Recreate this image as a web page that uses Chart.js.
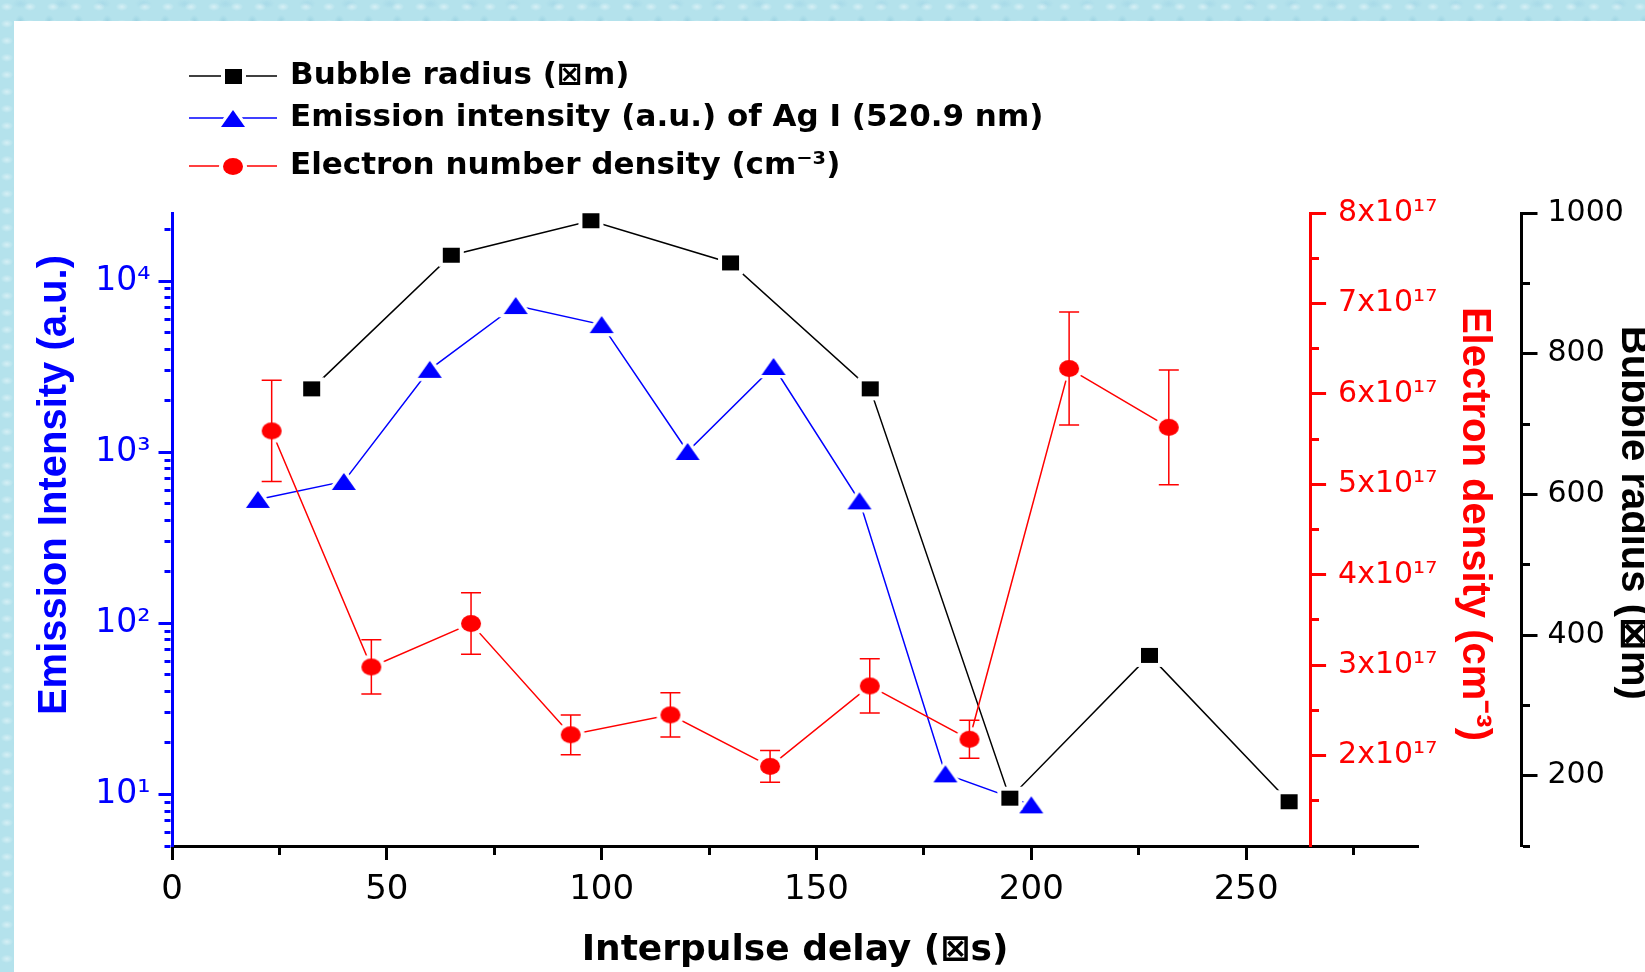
<!DOCTYPE html>
<html>
<head>
<meta charset="utf-8">
<title>Interpulse delay</title>
<script src="https://cdn.jsdelivr.net/npm/chart.js@4.4.1/dist/chart.umd.min.js"></script>
<style>
  html, body { margin: 0; padding: 0; }
  body {
    position: relative;
    width: 1645px;
    height: 972px;
    overflow: hidden;
    background-color: #b4e2ec;
    background-image:
      radial-gradient(ellipse 9px 6px at 30% 40%, rgba(255,255,255,.45), transparent 70%),
      radial-gradient(ellipse 7px 10px at 70% 70%, rgba(110,180,205,.35), transparent 70%),
      radial-gradient(ellipse 12px 7px at 50% 10%, rgba(150,205,225,.4), transparent 70%);
    background-size: 23px 17px, 29px 31px, 41px 37px;
  }
  #panel { position: absolute; left: 14px; top: 21px; right: 0; bottom: 0; background: #fff; }
  #chart { position: absolute; left: 0; top: 0; }
</style>
</head>
<body>
<div id="panel"></div>
<canvas id="chart" width="1645" height="972"></canvas>
<script>
// bubble radius (um) vs interpulse delay (us)
const bubbleDelay = [32.5, 65, 97.5, 130, 162.5, 195, 227.5, 260];
const bubbleRadius = [750, 940, 989, 929, 750, 168, 371, 163];

// Ag I 520.9 nm emission intensity (a.u.)
const emissionDelay = [20, 40, 60, 80, 100, 120, 140, 160, 180, 200];
const emissionIntensity = [530, 675, 3050, 7200, 5570, 1010, 3170, 520, 13.2, 8.7];

// electron number density (cm-3) with its error
const densityDelay = [23.2, 46.4, 69.6, 92.8, 116, 139.2, 162.4, 185.6, 208.8, 232];
const electronDensity = [5.59e17, 2.98e17, 3.46e17, 2.23e17, 2.45e17, 1.88e17, 2.77e17, 2.18e17, 6.28e17, 5.63e17];
const densityError = [0.56e17, 0.30e17, 0.34e17, 0.22e17, 0.245e17, 0.175e17, 0.30e17, 0.21e17, 0.625e17, 0.635e17];

// ticks that carry a label (the others are minor)
const delayTicks = [0, 50, 100, 150, 200, 250];
const intensityTicks = [10, 100, 1000, 10000];
const densityTicks = [2e17, 3e17, 4e17, 5e17, 6e17, 7e17, 8e17];
const radiusTicks = [200, 400, 600, 800, 1000];

const tickFont = "'DejaVu Sans', sans-serif";

// the vertical titles look tall and narrow: use a narrow face when there is one
function hasFont(name) {
  const g = document.createElement('canvas').getContext('2d');
  g.font = 'bold 40px monospace';
  const base = g.measureText('Electron density').width;
  g.font = "bold 40px '" + name + "', monospace";
  return g.measureText('Electron density').width !== base;
}
const narrow = hasFont('Liberation Sans Narrow');
const titleFont = narrow ? "'Liberation Sans Narrow', 'Liberation Sans', sans-serif" : "'Liberation Sans', Arial, sans-serif";
const titleSize = narrow ? 48 : 40;
const titleHalf = titleSize * 0.6;

const SUP = {'0':'⁰','1':'¹','2':'²','3':'³','4':'⁴','5':'⁵','6':'⁶','7':'⁷','8':'⁸','9':'⁹','-':'⁻'};
const sup = s => String(s).split('').map(c => SUP[c] || c).join('');
const isMajor = (list, v) => list.some(t => Math.abs(t - v) <= Math.abs(t) * 1e-6);

// Origin style symbols, with a white halo so the line stops short of them
function marker(shape, color, w, h) {
  const halo = 4;
  const c = document.createElement('canvas');
  c.width = w + halo * 2 + 2;
  c.height = h + halo * 2 + 2;
  const g = c.getContext('2d');
  const cx = c.width / 2, cy = c.height / 2;
  const path = pad => {
    g.beginPath();
    if (shape === 'rect') {
      g.rect(cx - w / 2 - pad, cy - h / 2 - pad, w + 2 * pad, h + 2 * pad);
    } else if (shape === 'circle') {
      g.ellipse(cx, cy, w / 2 + pad, h / 2 + pad, 0, 0, Math.PI * 2);
    } else {
      g.moveTo(cx, cy - h / 2 - pad * 1.6);
      g.lineTo(cx + w / 2 + pad * 1.4, cy + h / 2 + pad * 0.8);
      g.lineTo(cx - w / 2 - pad * 1.4, cy + h / 2 + pad * 0.8);
      g.closePath();
    }
  };
  g.fillStyle = '#fff';
  path(halo);
  g.fill();
  g.fillStyle = color;
  path(0);
  g.fill();
  return c;
}

const toPoints = (xs, ys) => xs.map((x, i) => ({x: x, y: ys[i]}));

// minor ticks are drawn shorter with a dash pattern
const outwardDash = (list, len) => c => isMajor(list, c.tick.value) ? [] : [len, 60];

const errorBars = {
  id: 'errorBars',
  afterDatasetsDraw(chart) {
    const ctx = chart.ctx;
    chart.data.datasets.forEach((ds, i) => {
      if (!ds.errors) return;
      const meta = chart.getDatasetMeta(i);
      const scale = chart.scales[ds.yAxisID];
      ctx.save();
      ctx.strokeStyle = ds.borderColor;
      ctx.lineWidth = 1.5;
      meta.data.forEach((pt, j) => {
        const v = ds.data[j].y, e = ds.errors[j];
        const top = scale.getPixelForValue(v + e);
        const bot = scale.getPixelForValue(v - e);
        const half = 10;
        ctx.beginPath();
        ctx.moveTo(pt.x, top); ctx.lineTo(pt.x, bot);
        ctx.moveTo(pt.x - half, top); ctx.lineTo(pt.x + half, top);
        ctx.moveTo(pt.x - half, bot); ctx.lineTo(pt.x + half, bot);
        ctx.stroke();
      });
      ctx.restore();
    });
  }
};

const seriesKey = {
  id: 'seriesKey',
  afterDraw(chart, args, opts) {
    const ctx = chart.ctx;
    ctx.save();
    chart.data.datasets.forEach((ds, i) => {
      const y = opts.rows[i];
      ctx.strokeStyle = ds.borderColor;
      ctx.lineWidth = 1.5;
      ctx.beginPath();
      ctx.moveTo(opts.x, y);
      ctx.lineTo(opts.x + opts.lineLength, y);
      ctx.stroke();
      const img = ds.pointStyle;
      ctx.drawImage(img, Math.round(opts.x + opts.lineLength / 2 - img.width / 2), Math.round(y - img.height / 2));
      ctx.fillStyle = '#000';
      ctx.font = opts.font;
      ctx.textAlign = 'left';
      ctx.textBaseline = 'middle';
      ctx.fillText(ds.label, opts.textX, y);
    });
    ctx.restore();
  }
};

// the density axis stands inside the plot, at a delay of 265 us
const densityAxisAt = {
  id: 'densityAxisAt',
  afterLayout(chart) {
    const red = chart.scales.yDensity;
    red.left = chart.scales.x.getPixelForValue(265);
    red.right = red.left + 187;
  }
};

new Chart(document.getElementById('chart'), {
  type: 'line',
  data: {
    datasets: [
      {
        label: 'Bubble radius (⊠m)',
        data: toPoints(bubbleDelay, bubbleRadius),
        yAxisID: 'yRadius',
        borderColor: '#000000',
        pointStyle: marker('rect', '#000000', 17, 15),
        order: 1
      },
      {
        label: 'Emission intensity (a.u.) of Ag I (520.9 nm)',
        data: toPoints(emissionDelay, emissionIntensity),
        yAxisID: 'yIntensity',
        borderColor: '#0000ff',
        pointStyle: marker('triangle', '#0000ff', 24, 17),
        order: 2
      },
      {
        label: 'Electron number density (cm⁻³)',
        data: toPoints(densityDelay, electronDensity),
        errors: densityError,
        yAxisID: 'yDensity',
        borderColor: '#ff0000',
        pointStyle: marker('circle', '#ff0000', 20, 17),
        order: 0
      }
    ]
  },
  options: {
    responsive: false,
    animation: false,
    devicePixelRatio: 1,
    events: [],
    layout: { padding: { top: 213, left: 0, right: 0, bottom: 0 } },
    elements: {
      line: { borderWidth: 1.5, tension: 0, fill: false },
      point: { radius: 10, hoverRadius: 10 }
    },
    plugins: {
      legend: { display: false },
      tooltip: { enabled: false },
      seriesKey: {
        x: 189,
        lineLength: 88,
        textX: 290,
        rows: [76, 118, 166],
        font: "bold 31px 'DejaVu Sans', sans-serif"
      }
    },
    scales: {
      x: {
        type: 'linear',
        position: 'bottom',
        min: 0,
        max: 290,
        afterFit: s => { s.height = 126; },
        ticks: {
          stepSize: 25,
          includeBounds: false,
          autoSkip: false,
          maxRotation: 0,
          padding: 10,
          color: '#000',
          font: { family: tickFont, size: 34 },
          callback: v => isMajor(delayTicks, v) ? String(v) : ''
        },
        grid: {
          drawOnChartArea: false,
          tickLength: 14,
          tickWidth: 3,
          tickColor: '#000',
          tickBorderDash: outwardDash(delayTicks, 7)
        },
        border: { display: true, color: '#000', width: 3 },
        title: {
          display: true,
          text: 'Interpulse delay (⊠s)',
          color: '#000',
          font: { family: tickFont, size: 36, weight: 'bold' },
          padding: { top: 0, bottom: 0 }
        }
      },
      yIntensity: {
        type: 'logarithmic',
        position: 'left',
        min: 5,
        max: 25000,
        afterFit: s => { s.width = 172; },
        afterBuildTicks: s => {
          s.ticks = s.ticks.filter(t => {
            const m = t.value / Math.pow(10, Math.floor(Math.log10(t.value) + 1e-9));
            return Math.abs(m - Math.round(m)) < 1e-6;
          });
        },
        ticks: {
          autoSkip: false,
          padding: 8,
          color: '#0000ff',
          font: { family: tickFont, size: 33 },
          callback: v => isMajor(intensityTicks, v) ? '10' + sup(Math.round(Math.log10(v))) : ''
        },
        grid: {
          drawOnChartArea: false,
          tickLength: 13.5,
          tickWidth: 3,
          tickColor: '#0000ff',
          tickBorderDash: c => isMajor(intensityTicks, c.tick.value) ? [] : [6, 6],
          tickBorderDashOffset: c => isMajor(intensityTicks, c.tick.value) ? 0 : 6
        },
        border: { display: true, color: '#0000ff', width: 3 },
        title: {
          display: true,
          text: '        Emission Intensity (a.u.)',
          color: '#0000ff',
          font: { family: titleFont, size: titleSize, weight: 'bold' },
          padding: { top: 55 - titleHalf, bottom: 0 }
        }
      },
      yDensity: {
        type: 'linear',
        position: 'right',
        min: 1e17,
        max: 8e17,
        afterFit: s => { s.width = 103; },
        ticks: {
          stepSize: 0.5e17,
          autoSkip: false,
          padding: 12,
          color: '#ff0000',
          font: { family: tickFont, size: 30 },
          callback: v => isMajor(densityTicks, v) ? Math.round(v / 1e17) + 'x10' + sup(17) : ''
        },
        grid: {
          drawOnChartArea: false,
          tickLength: 15.5,
          tickWidth: 3,
          tickColor: '#ff0000',
          tickBorderDash: outwardDash(densityTicks, 7)
        },
        border: { display: true, color: '#ff0000', width: 3 },
        title: {
          display: true,
          text: 'Electron density (cm⁻³) ',
          color: '#ff0000',
          font: { family: titleFont, size: titleSize, weight: 'bold' },
          padding: { top: 24 - titleHalf, bottom: 0 }
        }
      },
      yRadius: {
        type: 'linear',
        position: 'right',
        min: 100,
        max: 1000,
        afterFit: s => { s.width = 124; },
        ticks: {
          stepSize: 100,
          autoSkip: false,
          padding: 10,
          color: '#000',
          font: { family: tickFont, size: 30 },
          callback: v => isMajor(radiusTicks, v) ? String(v) : ''
        },
        grid: {
          drawOnChartArea: false,
          tickLength: 16.5,
          tickWidth: 3,
          tickColor: '#000',
          tickBorderDash: outwardDash(radiusTicks, 7)
        },
        border: { display: true, color: '#000', width: 3 },
        title: {
          display: true,
          text: 'Bubble radius (⊠m)   ',
          color: '#000',
          font: { family: titleFont, size: titleSize, weight: 'bold' },
          padding: { top: 12 - titleHalf, bottom: 0 }
        }
      }
    }
  },
  plugins: [errorBars, seriesKey, densityAxisAt]
});
</script>
</body>
</html>
